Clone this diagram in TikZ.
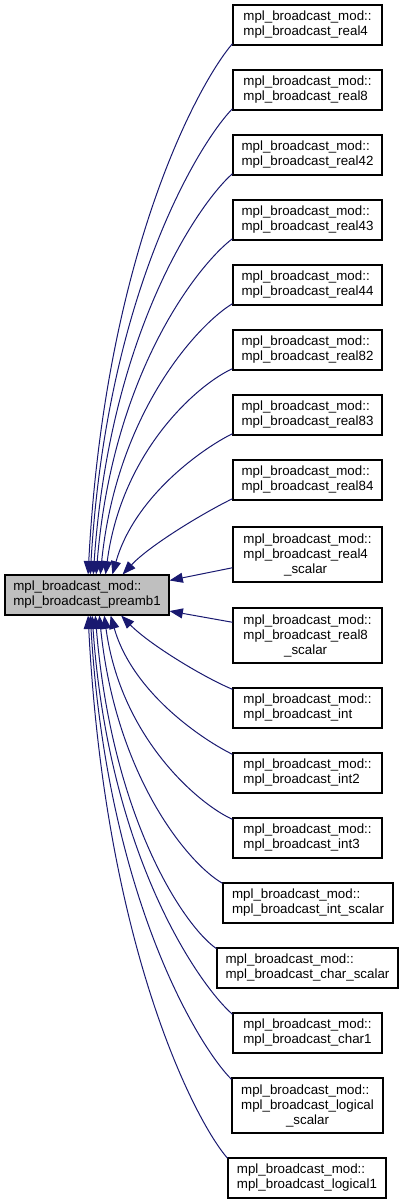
\documentclass[tikz,border=0pt]{standalone}
\usepackage{fontspec}
\setmainfont{Liberation Sans}
\usetikzlibrary{arrows.meta}
\definecolor{edgeblue}{HTML}{191970}
\definecolor{mainfill}{HTML}{BFBFBF}
\newcommand{\lastline}[2]{\setbox0\hbox{#1}\makebox[\wd0]{#2}}

\begin{document}
\begin{tikzpicture}[x=0.75pt, y=-0.75pt,
    fn/.style={draw, line width=0.8pt, align=left, inner sep=0pt, minimum width=111.75pt, minimum height=30pt, font=\fontsize{10}{11.25}\selectfont},
    tall/.style={minimum height=41.25pt},
    call/.style={draw=edgeblue, line width=0.75pt, -{Triangle[length=10pt, width=7.5pt]}}]
    \useasboundingbox (0,0) rectangle (404,1204);
    \node[fn, fill=mainfill, minimum width=123pt] (main) at (87,595) {mpl\_broadcast\_mod::\\mpl\_broadcast\_preamb1};
    \node[fn] (real4) at (307.5,25) {mpl\_broadcast\_mod::\\mpl\_broadcast\_real4};
    \node[fn] (real8) at (307.5,90) {mpl\_broadcast\_mod::\\mpl\_broadcast\_real8};
    \node[fn] (real42) at (307.5,155) {mpl\_broadcast\_mod::\\mpl\_broadcast\_real42};
    \node[fn] (real43) at (307.5,220) {mpl\_broadcast\_mod::\\mpl\_broadcast\_real43};
    \node[fn] (real44) at (307.5,285) {mpl\_broadcast\_mod::\\mpl\_broadcast\_real44};
    \node[fn] (real82) at (307.5,350) {mpl\_broadcast\_mod::\\mpl\_broadcast\_real82};
    \node[fn] (real83) at (307.5,415) {mpl\_broadcast\_mod::\\mpl\_broadcast\_real83};
    \node[fn] (real84) at (307.5,480) {mpl\_broadcast\_mod::\\mpl\_broadcast\_real84};
    \node[fn, tall] (real4s) at (307.5,554.5) {mpl\_broadcast\_mod::\\mpl\_broadcast\_real4\\\lastline{mpl\_broadcast\_real4}{\_scalar}};
    \node[fn, tall] (real8s) at (307.5,635.5) {mpl\_broadcast\_mod::\\mpl\_broadcast\_real8\\\lastline{mpl\_broadcast\_real8}{\_scalar}};
    \node[fn] (int) at (307.5,708) {mpl\_broadcast\_mod::\\mpl\_broadcast\_int};
    \node[fn] (int2) at (307.5,773) {mpl\_broadcast\_mod::\\mpl\_broadcast\_int2};
    \node[fn] (int3) at (307.5,838) {mpl\_broadcast\_mod::\\mpl\_broadcast\_int3};
    \node[fn, minimum width=127.5pt] (ints) at (308,903) {mpl\_broadcast\_mod::\\mpl\_broadcast\_int\_scalar};
    \node[fn, minimum width=135.75pt] (chars) at (307.5,968) {mpl\_broadcast\_mod::\\mpl\_broadcast\_char\_scalar};
    \node[fn] (char1) at (307.5,1033) {mpl\_broadcast\_mod::\\mpl\_broadcast\_char1};
    \node[fn, tall, minimum width=113.25pt] (logicals) at (307.5,1105.5) {mpl\_broadcast\_mod::\\mpl\_broadcast\_logical\\\lastline{mpl\_broadcast\_logical}{\_scalar}};
    \node[fn, minimum width=118.5pt] (logical1) at (307,1178) {mpl\_broadcast\_mod::\\mpl\_broadcast\_logical1};
    \draw[call] (real4.194) .. controls (200,81) and (105,251) .. (main.87);
    \draw[call] (real8.194) .. controls (200,142) and (107,291) .. (main.81);
    \draw[call] (real42.194) .. controls (200,202) and (110,330) .. (main.73);
    \draw[call] (real43.194) .. controls (200,263) and (113,370) .. (main.66);
    \draw[call] (real44.194) .. controls (200,323) and (117,410) .. (main.57);
    \draw[call] (real82.194) .. controls (200,383) and (122,449) .. (main.48);
    \draw[call] (real83.194) .. controls (205,447) and (135,495) .. (main.39);
    \draw[call] (real84.194) .. controls (205,512) and (150,545) .. (main.30);
    \draw[call] (real4s.190) -- (main.10);
    \draw[call] (real8s.170) -- (main.-11);
    \draw[call] (int.166) .. controls (205,678) and (150,645) .. (main.-31);
    \draw[call] (int2.166) .. controls (205,741) and (133,694) .. (main.-41);
    \draw[call] (int3.166) .. controls (200,805) and (121,739) .. (main.-50);
    \draw[call] (ints.167) .. controls (190,865) and (116,779) .. (main.-59);
    \draw[call] (chars.168) .. controls (184,926) and (112,819) .. (main.-68);
    \draw[call] (char1.166) .. controls (200,986) and (109,858) .. (main.-76);
    \draw[call] (logicals.161) .. controls (199,1047) and (107,898) .. (main.-81);
    \draw[call] (logical1.166) .. controls (195,1121) and (105,947) .. (main.-87);
\end{tikzpicture}
\end{document}
